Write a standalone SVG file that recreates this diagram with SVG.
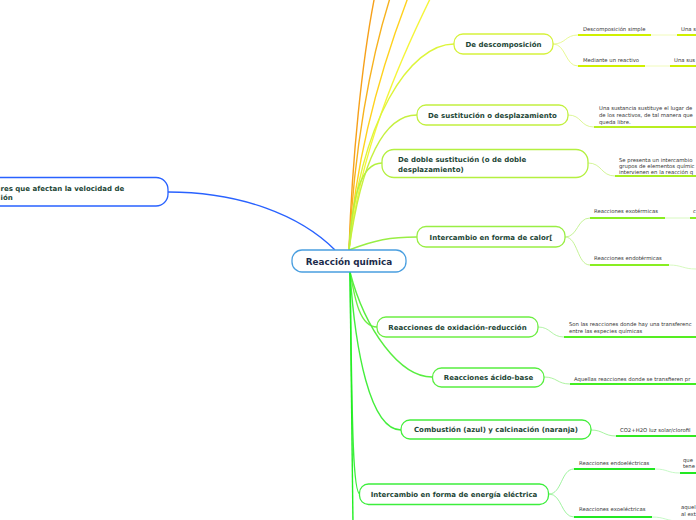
<svg xmlns="http://www.w3.org/2000/svg" width="696" height="520" viewBox="0 0 696 520">
<style>
.bg{fill:#ffffff}
.node rect{fill:#ffffff;stroke-width:1.3}
.main{font-family:"DejaVu Sans",Verdana,sans-serif;font-weight:bold;font-size:7px;fill:#1d4636}
.ctr{font-family:"DejaVu Sans",Verdana,sans-serif;font-weight:bold;font-size:8.8px;fill:#1b2b4b}
.sm{font-family:"DejaVu Sans",Verdana,sans-serif;font-size:5.3px;fill:#333333}
.c{fill:none;stroke-width:1.4}
.t{fill:none;stroke-width:0.8}
.u{fill:none;stroke-width:2}
</style>
<rect class="bg" x="0" y="0" width="696" height="520"/>
<g id="connectors">
<path class="c" stroke="#f6a01a" d="M349,250 C352,160 362,60 375,-5"/>
<path class="c" stroke="#f7b21e" d="M349,250 C354,150 370,60 391,-5"/>
<path class="c" stroke="#ffd21e" d="M349,250 C356,150 384,60 409,-5"/>
<path class="c" stroke="#f5f53a" d="M349,250 C360,150 400,60 432,-5"/>
<path class="c" stroke="#ddf53a" d="M349,250 C360,120 410,44 454,44"/>
<path class="c" stroke="#c6f040" d="M349,250 C360,170 380,115 417,115"/>
<path class="c" stroke="#b4f040" d="M349,250 C352,200 360,163 382,163"/>
<path class="c" stroke="#99ee44" d="M349,250 C375,240 390,237 417,237"/>
<path class="c" stroke="#6eee44" d="M350,272 C355,300 360,327 377,327"/>
<path class="c" stroke="#58ee40" d="M350,272 C365,330 400,377 432,377"/>
<path class="c" stroke="#44ee3c" d="M350,272 C355,350 370,430 401,430"/>
<path class="c" stroke="#3cee3c" d="M350,272 C352,400 352,494 360,494"/>
<path class="c" stroke="#22ee22" d="M350,272 C351,400 352,480 353,525"/>
<path class="c" stroke="#2962ff" d="M168,192 C240,192 300,215 335,250"/>
<path class="t" stroke="#e2f77a" d="M553,44 C566,44 565,35 578,35"/>
<path class="u" stroke="#d0f000" d="M578,35 H651"/>
<path class="t" stroke="#eefaa8" d="M651,35 H677"/>
<path class="u" stroke="#d0f000" d="M677,35 H696"/>
<path class="t" stroke="#e2f77a" d="M553,44 C566,44 565,66 578,66"/>
<path class="u" stroke="#d0f000" d="M578,66 H645"/>
<path class="t" stroke="#eefaa8" d="M645,66 H670"/>
<path class="u" stroke="#d0f000" d="M670,66 H696"/>
<path class="t" stroke="#d4f47e" d="M568,115 C582,115 580,127 594,127"/>
<path class="u" stroke="#b8ee20" d="M594,127 H696"/>
<path class="t" stroke="#c8f27e" d="M588,163 C602,163 601,176 615,176"/>
<path class="u" stroke="#a8ee20" d="M615,176 H696"/>
<path class="t" stroke="#b8f07e" d="M565,237 C578,237 577,218 590,218"/>
<path class="u" stroke="#88ee22" d="M590,218 H665"/>
<path class="t" stroke="#cdf7b0" d="M665,218 H690"/>
<path class="u" stroke="#88ee22" d="M690,218 H696"/>
<path class="t" stroke="#b8f07e" d="M565,237 C578,237 577,265 590,265"/>
<path class="u" stroke="#88ee22" d="M590,265 H669"/>
<path class="t" stroke="#cdf7b0" d="M669,265 C682,265 683,269 696,269"/>
<path class="t" stroke="#a0f090" d="M538,327 C551,327 551,337 564,337"/>
<path class="u" stroke="#55ee22" d="M564,337 H696"/>
<path class="t" stroke="#98f088" d="M544,377 C557,377 557,384 570,384"/>
<path class="u" stroke="#44ee22" d="M570,384 H696"/>
<path class="t" stroke="#90f088" d="M591,430 C603,430 604,436 616,436"/>
<path class="u" stroke="#33e822" d="M616,436 H696"/>
<path class="t" stroke="#88f088" d="M549,494 C562,494 561,469 574,469"/>
<path class="u" stroke="#22e822" d="M574,469 H655"/>
<path class="t" stroke="#b8f7b8" d="M655,469 C668,469 667,473 680,473"/>
<path class="u" stroke="#22e822" d="M680,473 H696"/>
<path class="t" stroke="#88f088" d="M549,494 C562,494 561,517 574,517"/>
<path class="u" stroke="#22e822" d="M574,517 H652"/>
<path class="t" stroke="#b8f7b8" d="M652,517 C665,517 666,521 679,521"/>
</g>
<g id="center" class="node"><rect x="292" y="250" width="114" height="22" rx="10" stroke="#4a9fe0"/><text class="ctr" x="349" y="264.5" text-anchor="middle">Reacción química</text></g>
<g id="factores" class="node"><rect x="-20" y="177.5" width="188" height="28.5" rx="12" stroke="#2962ff"/><text class="main" x="0.5" y="190.5">res que afectan la velocidad de</text><text class="main" x="0.5" y="199.5">ión</text></g>
<g id="descomposicion" class="node"><rect x="454" y="34" width="99" height="20" rx="9" stroke="#d6f23c"/><text class="main" x="503.5" y="46.5" text-anchor="middle">De descomposición</text></g>
<g id="desc-simple"><text class="sm" x="583" y="31">Descomposición simple</text><text class="sm" x="681" y="31">Una s</text></g>
<g id="desc-reactivo"><text class="sm" x="583" y="62">Mediante un reactivo</text><text class="sm" x="674" y="62">Una sus</text></g>
<g id="sustitucion" class="node"><rect x="417" y="105" width="151" height="20" rx="9" stroke="#c2f040"/><text class="main" x="492.5" y="117.5" text-anchor="middle">De sustitución o desplazamiento</text></g>
<g id="sust-desc"><text class="sm" x="599" y="110">Una sustancia sustituye el lugar de</text><text class="sm" x="599" y="117">de los reactivos, de tal manera que</text><text class="sm" x="599" y="124">queda libre.</text></g>
<g id="doble" class="node"><rect x="382" y="149.5" width="206" height="28" rx="12" stroke="#b4f040"/><text class="main" x="398" y="161.5">De doble sustitución (o de doble</text><text class="main" x="398" y="171.5">desplazamiento)</text></g>
<g id="doble-desc"><text class="sm" x="619" y="162">Se presenta un intercambio</text><text class="sm" x="619" y="168">grupos de elementos químic</text><text class="sm" x="619" y="174">intervienen en la reacción q</text></g>
<g id="calor" class="node"><rect x="417" y="226.5" width="148" height="20.5" rx="9" stroke="#99ee44"/><text class="main" x="491" y="239.5" text-anchor="middle">Intercambio en forma de calor[</text></g>
<g id="exotermicas"><text class="sm" x="594" y="213">Reacciones exotérmicas</text><text class="sm" x="693" y="213">c</text></g>
<g id="endotermicas"><text class="sm" x="594" y="260">Reacciones endotérmicas</text></g>
<g id="oxidacion" class="node"><rect x="377" y="317" width="161" height="20" rx="9" stroke="#6eee44"/><text class="main" x="457.5" y="329.5" text-anchor="middle">Reacciones de oxidación-reducción</text></g>
<g id="oxid-desc"><text class="sm" x="569" y="326">Son las reacciones donde hay una transferenc</text><text class="sm" x="569" y="333">entre las especies químicas</text></g>
<g id="acido" class="node"><rect x="432.5" y="368" width="111.5" height="19" rx="9" stroke="#58ee40"/><text class="main" x="488.5" y="380" text-anchor="middle">Reacciones ácido-base</text></g>
<g id="acido-desc"><text class="sm" x="574" y="381">Aquellas reacciones donde se transfieren pr</text></g>
<g id="combustion" class="node"><rect x="401" y="420" width="190" height="19" rx="9" stroke="#44ee3c"/><text class="main" x="496" y="432" text-anchor="middle">Combustión (azul) y calcinación (naranja)</text></g>
<g id="comb-desc"><text class="sm" x="620" y="432">CO2+H2O luz solar/clorofil</text></g>
<g id="electrica" class="node"><rect x="359.5" y="484" width="189" height="20.5" rx="9" stroke="#3cee3c"/><text class="main" x="454" y="497" text-anchor="middle">Intercambio en forma de energía eléctrica</text></g>
<g id="endoelectricas"><text class="sm" x="579" y="465">Reacciones endoeléctricas</text><text class="sm" x="683" y="462">que</text><text class="sm" x="683" y="468">tene</text></g>
<g id="exoelectricas"><text class="sm" x="579" y="511">Reacciones exoeléctricas</text><text class="sm" x="681" y="509">aquel</text><text class="sm" x="681" y="516">al ext</text></g>
</svg>
